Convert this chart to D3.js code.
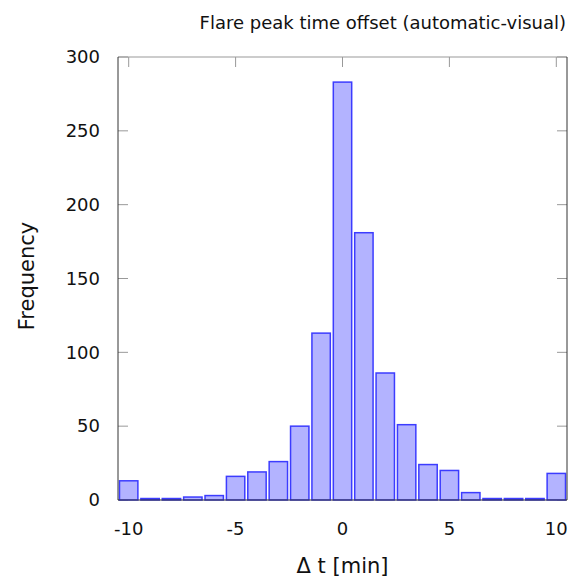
<!DOCTYPE html>
<html>
<head>
<meta charset="utf-8">
<script src="https://cdn.jsdelivr.net/npm/d3@7"></script>
<style>
  body { margin: 0; background: #fff; }
  text { font-family: "DejaVu Sans", Verdana, sans-serif; fill: #111; }
</style>
</head>
<body>
<div id="chart"></div>
<script>
// bin centres (minutes) and counts per bin
var binCenters = [-10, -9, -8, -7, -6, -5, -4, -3, -2, -1, 0, 1, 2, 3, 4, 5, 6, 7, 8, 9, 10];
var counts = [13, 1, 1, 2, 3, 16, 19, 26, 50, 113, 283, 181, 86, 51, 24, 20, 5, 1, 1, 1, 18];
var xTicks = [-10, -5, 0, 5, 10];
var yTicks = [0, 50, 100, 150, 200, 250, 300];

var width = 573, height = 579;
var margin = {left: 118, right: 6, top: 57, bottom: 79};
var plotW = width - margin.left - margin.right,
    plotH = height - margin.top - margin.bottom;

var svg = d3.select("#chart")
            .append("svg")
            .attr("width", width)
            .attr("height", height);

var g = svg.append("g")
           .attr("transform", "translate(" + margin.left + "," + margin.top + ")");

var xScale = d3.scaleLinear()
               .domain([-10.5, 10.5])
               .range([0, plotW]);

var yScale = d3.scaleLinear()
               .domain([0, 300])
               .range([plotH, 0]);

// inward ticks on all four sides
var tickLen = 10;
g.append("g").selectAll("line.yl")
  .data(yTicks).enter().append("line")
  .attr("x1", 0).attr("x2", tickLen)
  .attr("y1", function(d) { return yScale(d); })
  .attr("y2", function(d) { return yScale(d); })
  .attr("stroke", "#999");
g.append("g").selectAll("line.yr")
  .data(yTicks).enter().append("line")
  .attr("x1", plotW).attr("x2", plotW - tickLen)
  .attr("y1", function(d) { return yScale(d); })
  .attr("y2", function(d) { return yScale(d); })
  .attr("stroke", "#999");
g.append("g").selectAll("line.xt")
  .data(xTicks).enter().append("line")
  .attr("x1", function(d) { return xScale(d); })
  .attr("x2", function(d) { return xScale(d); })
  .attr("y1", 0).attr("y2", tickLen)
  .attr("stroke", "#999");

// bars
var bw = xScale(1) - xScale(0);
g.selectAll(".bars")
  .data(counts)
  .enter()
  .append("rect")
  .attr("class", "bars")
  .attr("x", function(d, i) { return xScale(binCenters[i] - 0.5) + 1.5; })
  .attr("width", bw - 3)
  .attr("y", function(d) { return yScale(d); })
  .attr("height", function(d) { return plotH - yScale(d); })
  .style("fill", "#b3b3ff")
  .style("stroke", "#3c3cff")
  .style("stroke-width", 1.5);

// frame
g.append("line").attr("x1", 0).attr("x2", plotW).attr("y1", 0).attr("y2", 0)
  .attr("stroke", "#999");
g.append("line").attr("x1", 0).attr("x2", 0).attr("y1", 0).attr("y2", plotH)
  .attr("stroke", "#333");
g.append("line").attr("x1", plotW).attr("x2", plotW).attr("y1", 0).attr("y2", plotH)
  .attr("stroke", "#333");
g.append("line").attr("x1", 0).attr("x2", plotW).attr("y1", plotH).attr("y2", plotH)
  .attr("stroke", "#333");

// tick labels
g.selectAll(".ylab")
  .data(yTicks).enter().append("text")
  .attr("x", -18)
  .attr("y", function(d) { return yScale(d); })
  .attr("dy", "0.35em")
  .style("text-anchor", "end")
  .style("font-size", "18px")
  .text(function(d) { return d; });

g.selectAll(".xlab")
  .data(xTicks).enter().append("text")
  .attr("x", function(d) { return xScale(d); })
  .attr("y", plotH + 35)
  .style("text-anchor", "middle")
  .style("font-size", "18px")
  .text(function(d) { return d; });

// axis titles
svg.append("text")
   .attr("x", margin.left + xScale(0))
   .attr("y", 573)
   .style("text-anchor", "middle")
   .style("font-size", "21px")
   .text("Δ t [min]");

svg.append("text")
   .attr("transform", "translate(34," + 276 + ") rotate(-90)")
   .style("text-anchor", "middle")
   .style("font-size", "21px")
   .text("Frequency");

svg.append("text")
   .attr("x", 566)
   .attr("y", 29)
   .style("text-anchor", "end")
   .style("font-size", "18px")
   .text("Flare peak time offset (automatic-visual)");
</script>
</body>
</html>
